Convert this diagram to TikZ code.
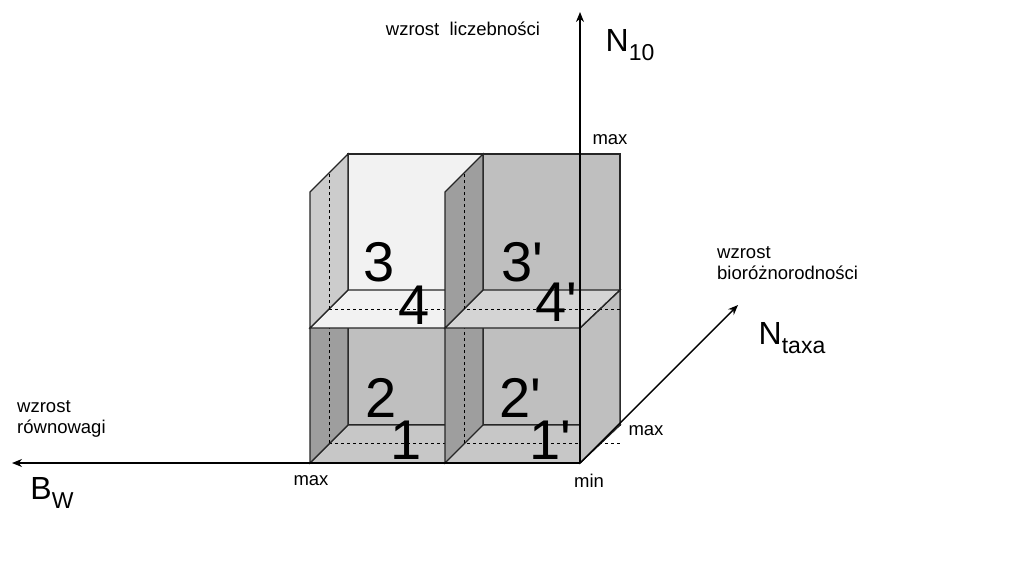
\documentclass[tikz,border=0pt]{standalone}
\usepackage{fontspec}
\setmainfont{Liberation Sans}
\usetikzlibrary{arrows.meta}
\begin{document}
\begin{tikzpicture}[x=1pt,y=-1pt,
  wall/.style={draw=black!85,line width=1.2pt},
  hid/.style={dashed,line width=0.9pt},
  big/.style={font=\fontsize{56}{56}\selectfont,inner sep=0pt},
  sm/.style={font=\fontsize{18.5}{21}\selectfont,inner sep=0pt},
  ax/.style={line width=1.4pt,-{Stealth[length=10pt,width=8pt]}}]
\useasboundingbox (0,0) rectangle (1024,576);
% back wall
\fill[black!25] (348,154) rectangle (620,425);
\fill[black!5] (348,154) rectangle (483,290);
\draw[wall] (348,154) rectangle (620,425);
\draw[wall] (483,154) -- (483,425);
% floor
\draw[wall,fill=black!22] (310,463) -- (348,425) -- (620,425) -- (580,463) -- cycle;
% hidden lines
\draw[hid] (329,443) -- (620,443);
\draw[hid] (464,443) -- (464,425);
% bottom side walls
\draw[wall,fill=black!38] (310,463) -- (310,328) -- (348,290) -- (348,425) -- cycle;
\draw[wall,fill=black!38] (445,463) -- (445,328) -- (483,290) -- (483,425) -- cycle;
\draw[wall,fill=black!25] (580,463) -- (580,328) -- (620,290) -- (620,425) -- cycle;
\draw[hid] (329,443) -- (329,309);
\draw[hid] (464,443) -- (464,309);
% shelf
\draw[wall,fill=black!5] (310,328) -- (348,290) -- (483,290) -- (445,328) -- cycle;
\draw[wall,fill=black!17] (445,328) -- (483,290) -- (620,290) -- (580,328) -- cycle;
\draw[hid] (329,309) -- (620,309);
% top side walls
\draw[wall,fill=black!20] (310,328) -- (310,192) -- (348,154) -- (348,290) -- cycle;
\draw[wall,fill=black!38] (445,328) -- (445,192) -- (483,154) -- (483,290) -- cycle;
\draw[wall] (580,328) -- (620,290) -- (620,154);
\draw[hid] (329,309) -- (329,172);
\draw[hid] (464,309) -- (464,172);
\draw[wall] (310,463) -- (580,463);
% labels
\node[big] (n3) at (379,262) {3};
\node[big] (n4) at (414,305) {4};
\node[big] (n3p) at (522,262) {3\textquotesingle};
\node[big] (n4p) at (556,302) {4\textquotesingle};
\node[big] (n2) at (381,398) {2};
\node[big] (n1) at (406,440) {1};
\node[big] (n2p) at (520,398) {2\textquotesingle};
\node[big] (n1p) at (550,440) {1\textquotesingle};
% axes
\coordinate (o) at (580,463);
\coordinate (ay) at (580,12);
\coordinate (ax) at (12,463);
\coordinate (az) at (738,305);
\draw[ax] (o) -- (ay);
\draw[ax] (o) -- (ax);
\draw[ax] (o) -- (az);
\node[font=\fontsize{32}{32}\selectfont,inner sep=0pt] (N10) at (630,45) {N\raisebox{-9pt}{\fontsize{23}{23}\selectfont 10}};
\node[font=\fontsize{32}{32}\selectfont,inner sep=0pt] (Nt) at (792,338) {N\raisebox{-9pt}{\fontsize{23}{23}\selectfont taxa}};
\node[font=\fontsize{32}{32}\selectfont,inner sep=0pt] (Bw) at (52,493) {B\raisebox{-9pt}{\fontsize{23}{23}\selectfont W}};
\node[sm] (m1) at (610,140) {max};
\node[sm] (m2) at (311,481) {max};
\node[sm] (m3) at (589,481) {min};
\node[sm] (m4) at (646,431) {max};
\node[sm] (t1) at (463,29) {wzrost\ \ liczebności};
\node[sm,anchor=west,align=left] (t2) at (717,263) {wzrost\\bioróżnorodności};
\node[sm,anchor=west,align=left] (t3) at (17,419) {wzrost\\równowagi};
\end{tikzpicture}
\end{document}
